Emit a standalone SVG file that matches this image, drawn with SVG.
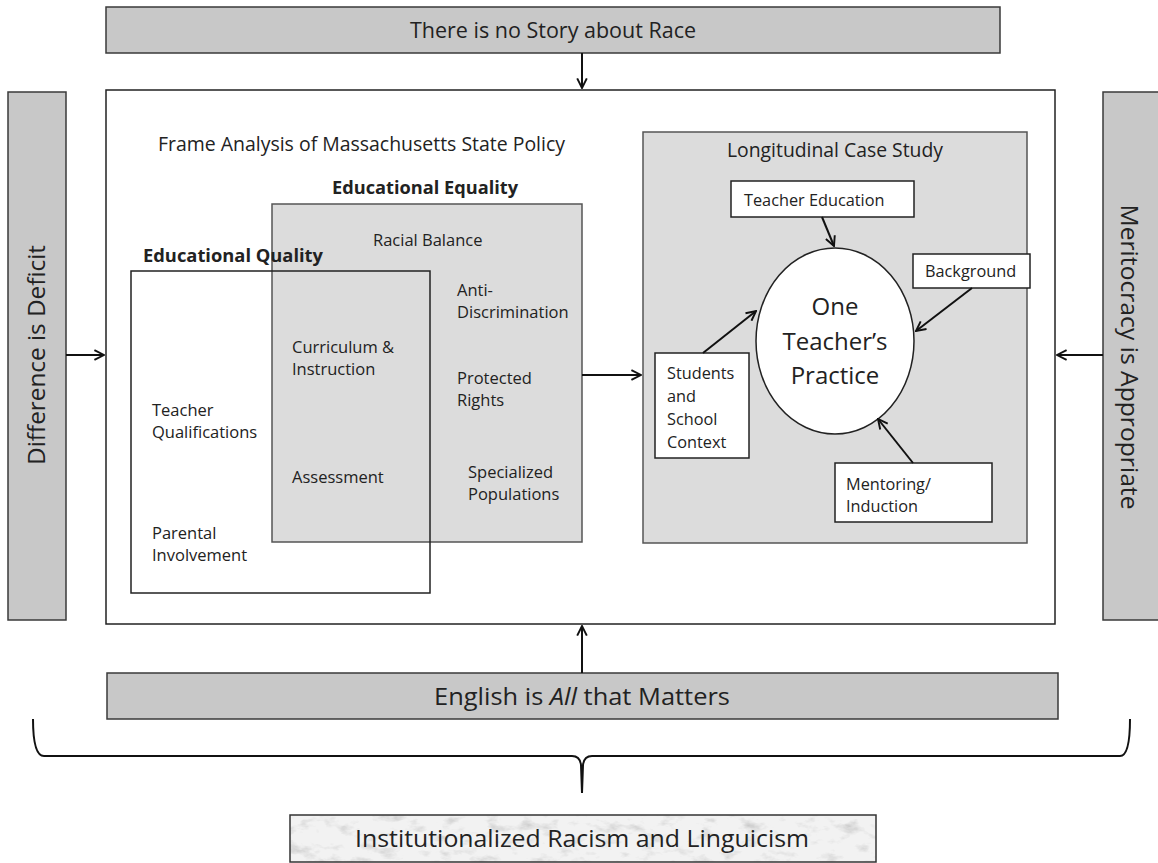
<svg xmlns="http://www.w3.org/2000/svg" width="1158" height="863" viewBox="0 0 1158 863">
<style>
.bar{fill:#c8c8c8;stroke:#3a3a3a;stroke-width:1.5}
.box{fill:#fff;stroke:#222;stroke-width:1.5}
.gbox{fill:#dcdcdc;stroke:#555;stroke-width:1.5}
.t{font-family:"Open Sans","Liberation Sans",sans-serif;fill:#222}
.s{font-size:16.5px}
.h{font-size:19.5px}
.sb{font-size:16.3px}
.big{font-size:23px}
.b{font-weight:bold;font-size:18.2px}
.c{stroke:#111;stroke-width:2;fill:none}
</style>
<defs>
<marker id="ah2" viewBox="0 0 10 10" refX="9" refY="5" markerWidth="12" markerHeight="12" orient="auto" markerUnits="userSpaceOnUse">
<path d="M1,1 L9,5 L1,9" fill="none" stroke="#111" stroke-width="1.6"/>
</marker>
<filter id="marble" x="0" y="0" width="1" height="1">
<feTurbulence type="fractalNoise" baseFrequency="0.05 0.09" numOctaves="4" seed="7" result="n"/>
<feColorMatrix in="n" type="matrix" values="0 0 0 0 0.55  0 0 0 0 0.55  0 0 0 0 0.55  -2.2 0 0 0 1.05" result="m"/>
<feFlood flood-color="#f2f2f2" result="bg"/>
<feComposite in="m" in2="bg" operator="over" result="mb"/>
<feComposite in="mb" in2="SourceGraphic" operator="in"/>
</filter>
</defs>

<g id="top-frame">
<rect class="bar" x="106" y="7" width="894" height="46"/>
<text class="t" font-size="21.5" x="553" y="38" text-anchor="middle">There is no Story about Race</text>
</g>

<g id="left-frame">
<rect class="bar" x="8" y="92" width="58" height="528"/>
<text class="t big" transform="translate(45,355) rotate(-90)" text-anchor="middle" textLength="220" lengthAdjust="spacingAndGlyphs">Difference is Deficit</text>
</g>

<g id="right-frame">
<rect class="bar" x="1103" y="92" width="60" height="528"/>
<text class="t big" transform="translate(1121,357) rotate(90)" text-anchor="middle" textLength="305" lengthAdjust="spacingAndGlyphs">Meritocracy is Appropriate</text>
</g>

<g id="main-box">
<rect class="box" x="106" y="90" width="949" height="534"/>
<text class="t h" x="158" y="151" textLength="407" lengthAdjust="spacingAndGlyphs">Frame Analysis of Massachusetts State Policy</text>
</g>

<g id="educational-quality">
<rect x="131" y="271" width="299" height="322" fill="#fff" stroke="none"/>
</g>

<g id="educational-equality">
<rect class="gbox" x="272" y="204" width="310" height="338"/>
<text class="t b" x="332" y="194" textLength="186" lengthAdjust="spacingAndGlyphs">Educational Equality</text>
<text class="t s" x="373" y="246">Racial Balance</text>
<text class="t s" x="457" y="296">Anti-</text>
<text class="t s" x="457" y="318">Discrimination</text>
<text class="t s" x="457" y="384">Protected</text>
<text class="t s" x="457" y="406">Rights</text>
<text class="t s" x="468" y="478">Specialized</text>
<text class="t s" x="468" y="500">Populations</text>
</g>

<g id="educational-quality-items">
<rect x="131" y="271" width="299" height="322" fill="none" stroke="#222" stroke-width="1.5"/>
<text class="t b" x="143" y="262" textLength="180" lengthAdjust="spacingAndGlyphs">Educational Quality</text>
<text class="t s" x="292" y="353">Curriculum &amp;</text>
<text class="t s" x="292" y="375">Instruction</text>
<text class="t s" x="292" y="483">Assessment</text>
<text class="t s" x="152" y="416">Teacher</text>
<text class="t s" x="152" y="438">Qualifications</text>
<text class="t s" x="152" y="539">Parental</text>
<text class="t s" x="152" y="561">Involvement</text>
</g>

<g id="longitudinal-case-study">
<rect class="gbox" x="643" y="132" width="384" height="411"/>
<text class="t h" x="835" y="157" text-anchor="middle" textLength="216" lengthAdjust="spacingAndGlyphs">Longitudinal Case Study</text>
</g>

<g id="one-teacher">
<ellipse cx="835" cy="341" rx="79" ry="93" fill="#fff" stroke="#222" stroke-width="1.5"/>
<text class="t" font-size="24" x="835" y="315" text-anchor="middle">One</text>
<text class="t" font-size="24" x="835" y="350" text-anchor="middle">Teacher’s</text>
<text class="t" font-size="24" x="835" y="384" text-anchor="middle">Practice</text>
</g>

<g id="teacher-education">
<rect class="box" x="731" y="181" width="183" height="36"/>
<text class="t sb" x="744" y="206">Teacher Education</text>
</g>

<g id="background">
<rect class="box" x="913" y="254" width="117" height="34"/>
<text class="t sb" x="925" y="277">Background</text>
</g>

<g id="students">
<rect class="box" x="655" y="353" width="94" height="105"/>
<text class="t sb" x="667" y="379">Students</text>
<text class="t sb" x="667" y="402">and</text>
<text class="t sb" x="667" y="425">School</text>
<text class="t sb" x="667" y="448">Context</text>
</g>

<g id="mentoring">
<rect class="box" x="835" y="463" width="157" height="59"/>
<text class="t sb" x="846" y="490">Mentoring/</text>
<text class="t sb" x="846" y="512">Induction</text>
</g>

<g id="bottom-frame">
<rect class="bar" x="107" y="673" width="951" height="46"/>
<text class="t big" x="582" y="705" text-anchor="middle" textLength="296" lengthAdjust="spacingAndGlyphs">English is <tspan font-style="italic">All</tspan> that Matters</text>
</g>

<g id="institutional">
<rect x="290" y="815" width="586" height="47" fill="#eee" filter="url(#marble)"/>
<rect x="290" y="815" width="586" height="47" fill="none" stroke="#333" stroke-width="1.5"/>
<text class="t big" x="582" y="847" text-anchor="middle" textLength="454" lengthAdjust="spacingAndGlyphs">Institutionalized Racism and Linguicism</text>
</g>

<g id="connectors">
<line class="c" x1="582" y1="53" x2="582" y2="88" marker-end="url(#ah2)"/>
<line class="c" x1="66" y1="355" x2="104" y2="355" marker-end="url(#ah2)"/>
<line class="c" x1="1103" y1="355" x2="1057" y2="355" marker-end="url(#ah2)"/>
<line class="c" x1="582" y1="673" x2="582" y2="626" marker-end="url(#ah2)"/>
<line class="c" x1="582" y1="375" x2="641" y2="375" marker-end="url(#ah2)"/>
<line class="c" x1="822" y1="217" x2="834" y2="246" marker-end="url(#ah2)"/>
<line class="c" x1="972" y1="288" x2="916" y2="331" marker-end="url(#ah2)"/>
<line class="c" x1="703" y1="353" x2="756" y2="311" marker-end="url(#ah2)"/>
<line class="c" x1="913" y1="463" x2="878" y2="419" marker-end="url(#ah2)"/>
<path class="c" stroke-width="2.5" d="M33,719 Q33,756 44,756 L572,756 Q580,756 581,765 L582,793 M582,793 L583,765 Q584,756 592,756 L1120,756 Q1130,756 1130,719"/>
</g>
</svg>
